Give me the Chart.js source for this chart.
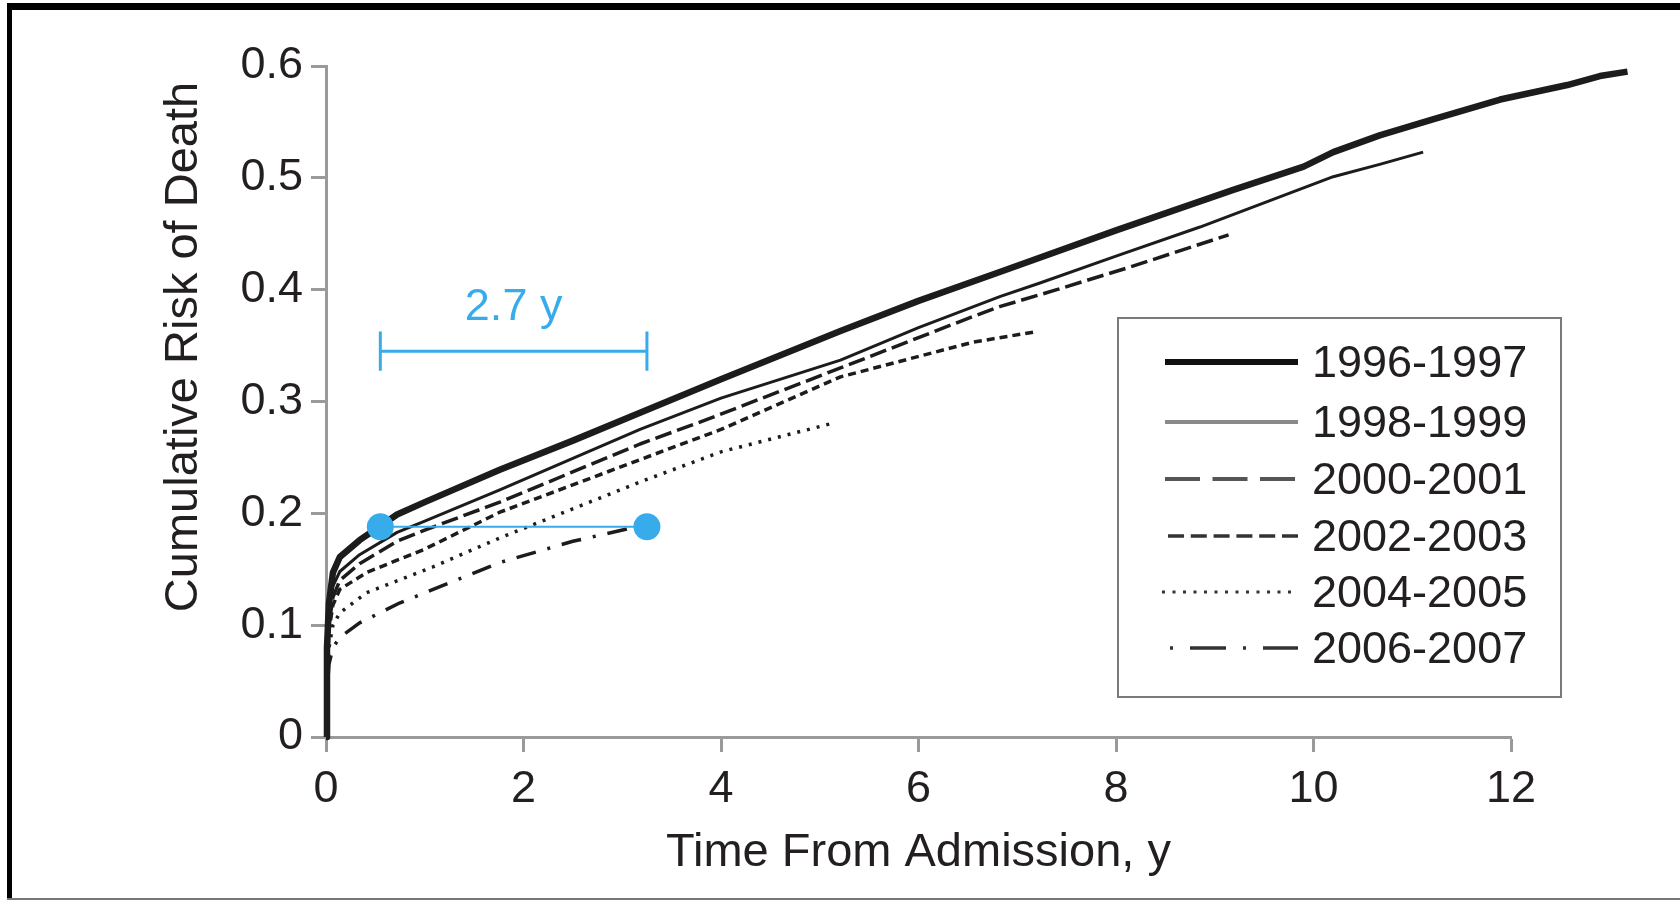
<!DOCTYPE html>
<html>
<head>
<meta charset="utf-8">
<script src="https://cdn.jsdelivr.net/npm/chart.js@4.4.1/dist/chart.umd.min.js"></script>
<style>
  html, body { margin: 0; padding: 0; background: #fff; }
  canvas { display: block; }
</style>
</head>
<body>
<canvas id="riskChart" width="1680" height="901"></canvas>
<script>
// cohorts (legend order)
const cohorts = ['1996-1997', '1998-1999', '2000-2001', '2002-2003', '2004-2005', '2006-2007'];

// time from admission (y) / cumulative risk of death
const t1996 = [0, 0.01, 0.03, 0.07, 0.14, 0.34, 0.72, 1.0, 1.76, 2.5, 3.18, 4.0, 5.21, 6.0, 6.83, 8.0, 9.18, 9.9, 10.2, 10.67, 11.2, 11.89, 12.57, 12.9, 13.18];
const r1996 = [0, 0.08, 0.12, 0.147, 0.161, 0.176, 0.199, 0.21, 0.239, 0.265, 0.29, 0.32, 0.363, 0.39, 0.416, 0.453, 0.489, 0.51, 0.523, 0.538, 0.552, 0.570, 0.583, 0.591, 0.595];

const t1998 = [0, 0.01, 0.03, 0.07, 0.14, 0.34, 0.72, 1.0, 1.76, 3.18, 4.0, 5.21, 6.0, 6.83, 7.23, 8.0, 8.85, 10.2, 10.67, 11.11];
const r1998 = [0, 0.07, 0.11, 0.135, 0.148, 0.163, 0.183, 0.193, 0.221, 0.275, 0.303, 0.337, 0.366, 0.394, 0.406, 0.43, 0.456, 0.501, 0.512, 0.523];

const t2000 = [0, 0.01, 0.03, 0.07, 0.14, 0.34, 0.72, 1.0, 1.76, 3.18, 3.86, 5.21, 6.55, 6.83, 7.4, 8.17, 9.14];
const r2000 = [0, 0.065, 0.1, 0.125, 0.14, 0.155, 0.175, 0.185, 0.21, 0.262, 0.284, 0.33, 0.376, 0.385, 0.4, 0.421, 0.449];

const t2002 = [0, 0.01, 0.03, 0.07, 0.14, 0.41, 1.0, 1.76, 3.18, 4.0, 5.21, 6.55, 7.16];
const r2002 = [0, 0.06, 0.095, 0.118, 0.132, 0.147, 0.168, 0.201, 0.248, 0.275, 0.322, 0.353, 0.362];

const t2004 = [0, 0.01, 0.03, 0.07, 0.14, 0.41, 1.08, 1.76, 3.18, 4.0, 5.15];
const r2004 = [0, 0.05, 0.08, 0.1, 0.111, 0.129, 0.152, 0.178, 0.228, 0.255, 0.281];

const t2006 = [0, 0.01, 0.03, 0.07, 0.14, 0.34, 0.75, 1.76, 2.5, 3.05];
const r2006 = [0, 0.04, 0.065, 0.08, 0.089, 0.102, 0.12, 0.156, 0.175, 0.186];

// axis ticks
const xTicks = [0, 2, 4, 6, 8, 10, 12];
const yTicks = [0, 0.1, 0.2, 0.3, 0.4, 0.5, 0.6];

// blue annotation: 2.7 y shift at the same risk
const gapStart = 0.55;
const gapEnd = 3.25;
const gapRisk = 0.188;
const bracketRisk = 0.345;
const bracketCap = 0.0175;
const gapLabel = '2.7 y';
const gapLabelRisk = 0.384;

const times = [t1996, t1998, t2000, t2002, t2004, t2006];
const risks = [r1996, r1998, r2000, r2002, r2004, r2006];

// line styles: plot and legend sample
const ink = '#1c1c1c';
const blue = '#38acea';
const plotStyles = [
  { width: 6.5, dash: [] },
  { width: 3, dash: [] },
  { width: 3.5, dash: [17, 6] },
  { width: 3.5, dash: [8, 5] },
  { width: 3.5, dash: [3, 7] },
  { width: 3.5, dash: [3, 12, 20, 12] }
];
const legendStyles = [
  { color: '#111', width: 6, dash: [], from: 1165 },
  { color: '#8a8a8a', width: 4, dash: [], from: 1165 },
  { color: '#555', width: 4, dash: [35, 12.5], from: 1165 },
  { color: '#333', width: 3.5, dash: [16, 6.8], from: 1168 },
  { color: '#333', width: 3, dash: [3, 7.5], from: 1162 },
  { color: '#333', width: 3.5, dash: [3, 17, 36, 17], from: 1170 }
];
const legendRows = [362, 422, 479, 536, 592, 648];

const fontFamily = '"Liberation Sans", Arial, Helvetica, sans-serif';
const textColor = '#231f20';
const axisColor = '#9a9a9a';

const datasets = cohorts.map((name, i) => ({
  label: name,
  data: times[i].map((t, k) => ({ x: t, y: risks[i][k] })),
  showLine: true,
  borderColor: ink,
  borderWidth: plotStyles[i].width,
  borderDash: plotStyles[i].dash,
  borderJoinStyle: 'round',
  pointRadius: 0,
  tension: 0,
  clip: false,
  order: 1 + i
}));

datasets.push({
  label: 'gap',
  data: [{ x: gapStart, y: gapRisk }, { x: gapEnd, y: gapRisk }],
  showLine: true,
  borderColor: blue,
  borderWidth: 2,
  pointRadius: 13.5,
  pointBackgroundColor: blue,
  pointBorderWidth: 0,
  clip: false,
  order: 0
});

datasets.push({
  label: 'bracket',
  data: [
    { x: gapStart, y: bracketRisk + bracketCap },
    { x: gapStart, y: bracketRisk - bracketCap },
    { x: gapStart, y: bracketRisk },
    { x: gapEnd, y: bracketRisk },
    { x: gapEnd, y: bracketRisk + bracketCap },
    { x: gapEnd, y: bracketRisk - bracketCap }
  ],
  showLine: true,
  borderColor: blue,
  borderWidth: 3,
  pointRadius: 0,
  clip: false,
  order: 0
});

const framePlugin = {
  id: 'frame',
  beforeDraw(chart) {
    const ctx = chart.ctx;
    ctx.save();
    ctx.fillStyle = '#fff';
    ctx.fillRect(0, 0, chart.width, chart.height);
    ctx.fillStyle = '#000';
    ctx.fillRect(7, 3, 5, 896);
    ctx.fillRect(7, 3, 1673, 7);
    ctx.fillStyle = '#777';
    ctx.fillRect(7, 898, 1673, 2);
    ctx.restore();
  }
};

// y title sits above the middle of the axis in the original
const yTitlePlugin = {
  id: 'yTitle',
  afterDraw(chart) {
    const ctx = chart.ctx;
    ctx.save();
    ctx.translate(184, 347);
    ctx.rotate(-Math.PI / 2);
    ctx.fillStyle = textColor;
    ctx.font = '47px ' + fontFamily;
    ctx.textAlign = 'center';
    ctx.textBaseline = 'middle';
    ctx.fillText('Cumulative Risk of Death', 0, 0);
    ctx.restore();
  }
};

const gapLabelPlugin = {
  id: 'gapLabel',
  afterDatasetsDraw(chart) {
    const { ctx, scales } = chart;
    ctx.save();
    ctx.fillStyle = blue;
    ctx.font = '45px ' + fontFamily;
    ctx.textAlign = 'center';
    ctx.textBaseline = 'middle';
    ctx.fillText(gapLabel, scales.x.getPixelForValue((gapStart + gapEnd) / 2), scales.y.getPixelForValue(gapLabelRisk));
    ctx.restore();
  }
};

const boxLegend = {
  id: 'boxLegend',
  afterDatasetsDraw(chart) {
    const ctx = chart.ctx;
    ctx.save();
    ctx.strokeStyle = '#7a7a7a';
    ctx.lineWidth = 2;
    ctx.strokeRect(1118, 318, 443, 379);
    cohorts.forEach((name, i) => {
      const st = legendStyles[i];
      const y = legendRows[i];
      ctx.beginPath();
      ctx.setLineDash(st.dash);
      ctx.lineWidth = st.width;
      ctx.strokeStyle = st.color;
      ctx.lineCap = 'butt';
      ctx.moveTo(st.from, y);
      ctx.lineTo(1298, y);
      ctx.stroke();
      ctx.setLineDash([]);
      ctx.fillStyle = textColor;
      ctx.font = '45px ' + fontFamily;
      ctx.textAlign = 'left';
      ctx.textBaseline = 'middle';
      ctx.fillText(name, 1312, y + 3);
    });
    ctx.restore();
  }
};

const ctx = document.getElementById('riskChart').getContext('2d');
const riskChart = new Chart(ctx, {
  type: 'scatter',
  data: { datasets: datasets },
  options: {
    responsive: false,
    animation: false,
    events: [],
    layout: { padding: { left: 0, right: 169, top: 66, bottom: 0 } },
    plugins: {
      legend: { display: false },
      tooltip: { enabled: false }
    },
    scales: {
      x: {
        type: 'linear',
        afterDataLimits: (s) => { s.min = xTicks[0]; s.max = xTicks[xTicks.length - 1]; },
        afterBuildTicks: (s) => { s.ticks = xTicks.map(v => ({ value: v })); },
        afterFit: (s) => { s.height = 164; },
        border: { display: true, color: axisColor, width: 3 },
        grid: { drawOnChartArea: false, drawTicks: true, tickLength: 15, tickWidth: 3, tickColor: axisColor, color: axisColor },
        ticks: {
          padding: 11,
          color: textColor,
          font: { family: fontFamily, size: 45 },
          maxRotation: 0,
          callback: (v) => String(v)
        },
        title: {
          display: true,
          text: 'Time From Admission, y',
          color: textColor,
          font: { family: fontFamily, size: 47 },
          padding: { top: 0, bottom: 20 }
        }
      },
      y: {
        type: 'linear',
        min: yTicks[0],
        max: yTicks[yTicks.length - 1],
        afterBuildTicks: (s) => { s.ticks = yTicks.map(v => ({ value: v })); },
        afterFit: (s) => { s.width = 326; },
        border: { display: true, color: axisColor, width: 3 },
        grid: { drawOnChartArea: false, drawTicks: true, tickLength: 15, tickWidth: 3, tickColor: axisColor, color: axisColor },
        ticks: {
          padding: 8,
          color: textColor,
          font: { family: fontFamily, size: 45 },
          callback: (v) => (v === 0 ? '0' : v.toFixed(1))
        },
        title: { display: false }
      }
    }
  },
  plugins: [framePlugin, gapLabelPlugin, boxLegend, yTitlePlugin]
});
</script>
</body>
</html>
